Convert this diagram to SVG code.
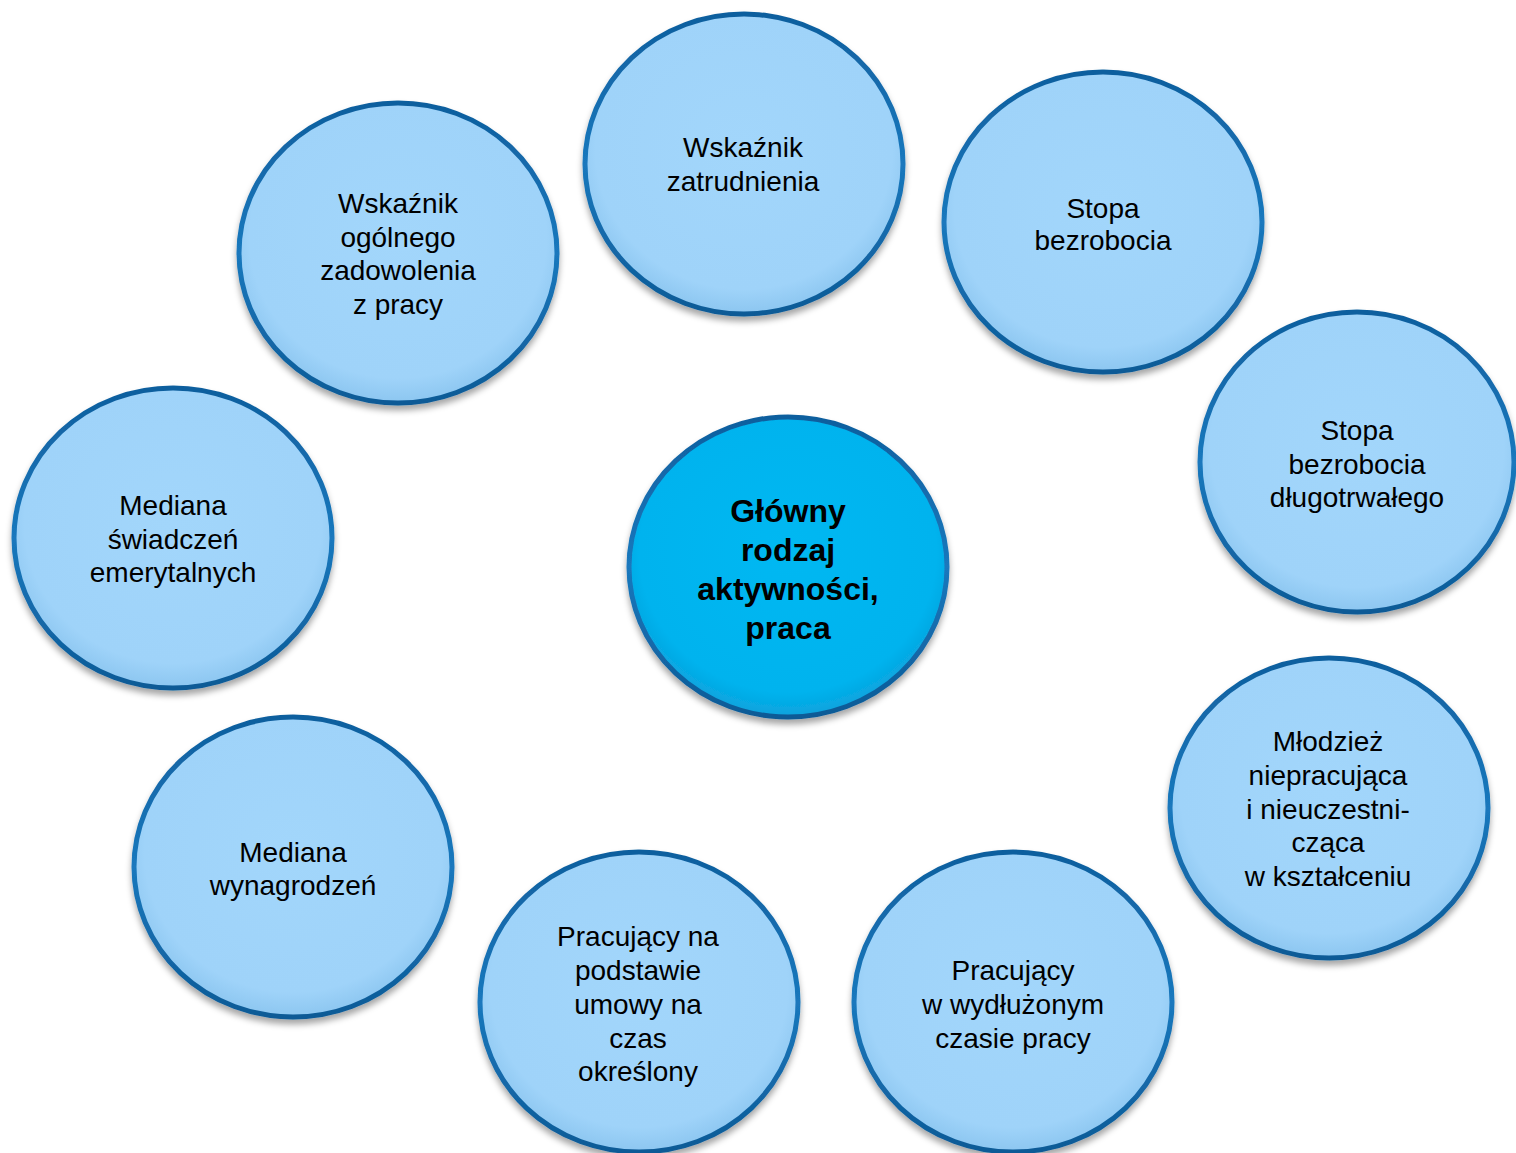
<svg xmlns="http://www.w3.org/2000/svg" width="1516" height="1153" viewBox="0 0 1516 1153">
<defs>
<linearGradient id="ring" x1="0" y1="0" x2="0" y2="1">
<stop offset="0" stop-color="#0f5f9e"/>
<stop offset="0.5" stop-color="#1a78bd"/>
<stop offset="1" stop-color="#0d5a96"/>
</linearGradient>
<radialGradient id="lite" cx="0.5" cy="0.45" r="0.55">
<stop offset="0" stop-color="#a2d6fb"/>
<stop offset="0.85" stop-color="#9fd3f9"/>
<stop offset="1" stop-color="#8cc6f0"/>
</radialGradient>
<radialGradient id="dark" cx="0.5" cy="0.45" r="0.55">
<stop offset="0" stop-color="#00b8f2"/>
<stop offset="0.85" stop-color="#02b3ee"/>
<stop offset="1" stop-color="#0aa2dc"/>
</radialGradient>
<filter id="sh" x="-10%" y="-10%" width="120%" height="125%">
<feDropShadow dx="0" dy="5" stdDeviation="3" flood-color="#000" flood-opacity="0.35"/>
</filter>
</defs>
<style>
.c{fill:url(#lite);stroke:url(#ring);stroke-width:5;filter:url(#sh)}
.m{fill:url(#dark);stroke:url(#ring);stroke-width:5;filter:url(#sh)}
text{font-family:"Liberation Sans",Arial,sans-serif;font-size:28px;fill:#000;text-anchor:middle}
.b{font-weight:bold;font-size:32px}
</style>
<g id="connectors"/>
<g id="n-zatrudnienie">
<ellipse class="c" cx="744" cy="164" rx="159" ry="150"/>
<text x="743" y="157">Wskaźnik</text>
<text x="743" y="191">zatrudnienia</text>
</g>
<g id="n-bezrobocie">
<ellipse class="c" cx="1103" cy="222" rx="159" ry="150"/>
<text x="1103" y="218">Stopa</text>
<text x="1103" y="250">bezrobocia</text>
</g>
<g id="n-dlugotrwale">
<ellipse class="c" cx="1357" cy="462" rx="157" ry="150"/>
<text x="1357" y="440">Stopa</text>
<text x="1357" y="474">bezrobocia</text>
<text x="1357" y="507">długotrwałego</text>
</g>
<g id="n-mlodziez">
<ellipse class="c" cx="1329" cy="808" rx="159" ry="150"/>
<text x="1328" y="751">Młodzież</text>
<text x="1328" y="785">niepracująca</text>
<text x="1328" y="819">i nieuczestni-</text>
<text x="1328" y="852">cząca</text>
<text x="1328" y="886">w kształceniu</text>
</g>
<g id="n-wydluzony">
<ellipse class="c" cx="1013" cy="1002" rx="159" ry="150"/>
<text x="1013" y="980">Pracujący</text>
<text x="1013" y="1014">w wydłużonym</text>
<text x="1013" y="1048">czasie pracy</text>
</g>
<g id="n-okreslony">
<ellipse class="c" cx="639" cy="1002" rx="159" ry="150"/>
<text x="638" y="946">Pracujący na</text>
<text x="638" y="980">podstawie</text>
<text x="638" y="1014">umowy na</text>
<text x="638" y="1048">czas</text>
<text x="638" y="1081">określony</text>
</g>
<g id="n-wynagrodzenia">
<ellipse class="c" cx="293" cy="867" rx="159" ry="150"/>
<text x="293" y="862">Mediana</text>
<text x="293" y="895">wynagrodzeń</text>
</g>
<g id="n-emerytury">
<ellipse class="c" cx="173" cy="538" rx="159" ry="150"/>
<text x="173" y="515">Mediana</text>
<text x="173" y="549">świadczeń</text>
<text x="173" y="582">emerytalnych</text>
</g>
<g id="n-zadowolenie">
<ellipse class="c" cx="398" cy="253" rx="159" ry="150"/>
<text x="398" y="213">Wskaźnik</text>
<text x="398" y="247">ogólnego</text>
<text x="398" y="280">zadowolenia</text>
<text x="398" y="314">z pracy</text>
</g>
<g id="n-glowny">
<ellipse class="m" cx="788" cy="567" rx="159" ry="150"/>
<text class="b" x="788" y="522">Główny</text>
<text class="b" x="788" y="561">rodzaj</text>
<text class="b" x="788" y="600">aktywności,</text>
<text class="b" x="788" y="639">praca</text>
</g>
</svg>
